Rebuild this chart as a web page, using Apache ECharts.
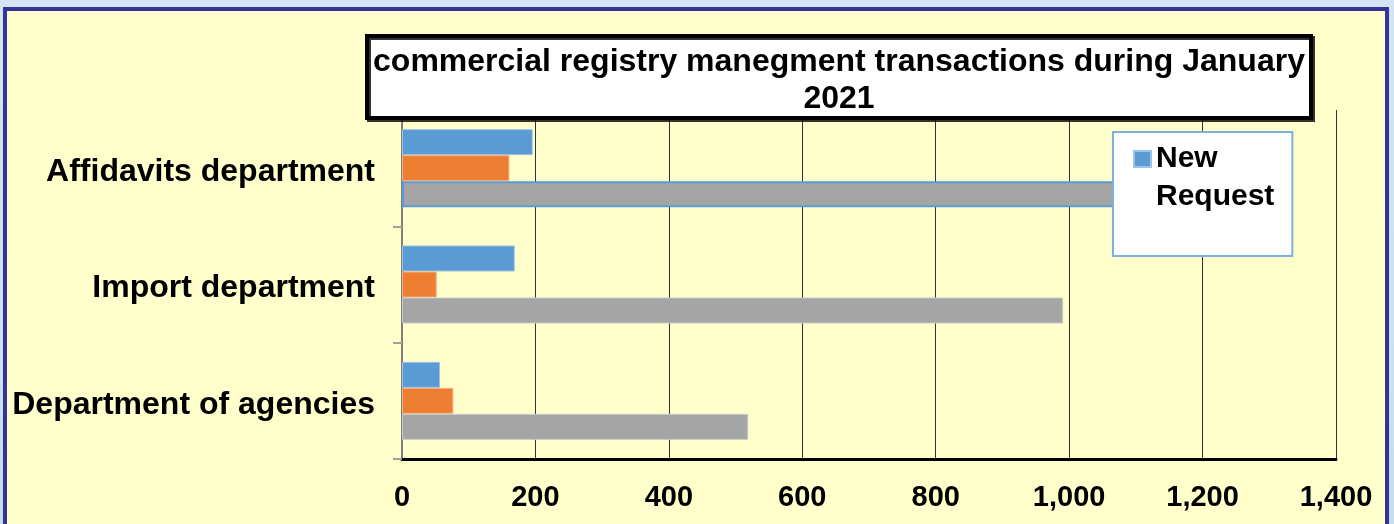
<!DOCTYPE html>
<html>
<head>
<meta charset="utf-8">
<script src="https://cdn.jsdelivr.net/npm/echarts@6/dist/echarts.min.js"></script>
<style>
    body { margin: 0; width: 1394px; height: 524px; overflow: hidden;
           background: linear-gradient(180deg, #d3e5f5 0%, #c6ddf2 100%); }
    #panel { position: absolute; left: 3px; top: 7px; width: 1386px; height: 540px;
             box-sizing: border-box; border: 4px solid #333399; background: #ffffcc; }
    #chart { position: absolute; left: 0; top: 0; width: 1394px; height: 524px; }
</style>
</head>
<body>
<div id="panel"></div>
<div id="chart"></div>
<script>
"use strict";

// categories top to bottom
var departments = ["Affidavits department", "Import department", "Department of agencies"];

// series values, same order as departments
var newRequest = [196, 169, 57];
var secondSeries = [161, 52, 77];
var thirdSeries = [1130, 991, 519];

var xTicks = [0, 200, 400, 600, 800, 1000, 1200, 1400];

(function (window, echarts) {
    var chart = echarts.init(document.querySelector("#chart"));
    var font = "'Liberation Sans', Arial, sans-serif";

    // excel keeps the first grey bar selected (blue outline)
    var greyData = thirdSeries.map(function (v, i) {
        return i === 0 ? { value: v, itemStyle: { borderColor: "#5b9bd5", borderWidth: 2 } } : v;
    });

    var option = {
        backgroundColor: "transparent",
        animation: false,
        title: {
            text: "commercial registry manegment transactions during January\n2021",
            left: 833,
            top: 36,
            textAlign: "center",
            padding: [8, 6, 0, 6],
            backgroundColor: "#ffffff",
            borderColor: "#000000",
            borderWidth: 4,
            shadowColor: "rgba(0,0,0,0.8)",
            shadowOffsetX: 2,
            shadowOffsetY: 2,
            textStyle: {
                fontFamily: font,
                fontSize: 32,
                fontWeight: "bold",
                color: "#000",
                lineHeight: 37
            }
        },
        legend: {
            data: ["New Request"],
            left: 1113,
            top: 132,
            orient: "vertical",
            icon: "rect",
            itemWidth: 17,
            itemHeight: 16,
            padding: [-30, 18, 40, 20],
            backgroundColor: "#ffffff",
            borderColor: "#7eb0e0",
            borderWidth: 2,
            // empty first line keeps "New" level with the swatch, as excel wraps it
            formatter: function () { return " \nNew\nRequest"; },
            textStyle: {
                fontFamily: font,
                fontSize: 30,
                fontWeight: "bold",
                color: "#000",
                lineHeight: 38
            }
        },
        grid: {
            left: 402,
            right: 58,
            top: 110,
            bottom: 65
        },
        xAxis: {
            type: "value",
            min: xTicks[0],
            max: xTicks[xTicks.length - 1],
            interval: xTicks[1] - xTicks[0],
            axisLine: { show: true, lineStyle: { color: "#000", width: 3 } },
            axisTick: { show: false },
            splitLine: { show: true, lineStyle: { color: "#333333", width: 1, type: "solid" } },
            axisLabel: {
                margin: 24,
                fontFamily: font,
                fontSize: 29,
                fontWeight: "bold",
                color: "#000",
                formatter: function (v) { return v.toLocaleString("en-US"); }
            }
        },
        yAxis: {
            type: "category",
            inverse: true,
            data: departments,
            axisLine: { show: true, lineStyle: { color: "#7f7f7f", width: 2 } },
            axisTick: { show: true, length: 9, lineStyle: { color: "#a0a0a0", width: 2 } },
            axisLabel: {
                margin: 27,
                formatter: function (v) { return "{d|" + v + "}"; },
                rich: {
                    d: {
                        padding: [8, 0, 0, 0],
                        fontFamily: font,
                        fontSize: 32,
                        fontWeight: "bold",
                        color: "#000"
                    }
                }
            }
        },
        series: [
            {
                name: "New Request",
                type: "bar",
                barWidth: 26,
                barGap: "0%",
                itemStyle: { color: "#5b9bd5", borderColor: "#9dc3e6", borderWidth: 1 },
                data: newRequest
            },
            {
                name: "Series 2",
                type: "bar",
                barWidth: 26,
                barGap: "0%",
                itemStyle: { color: "#ed7d31", borderColor: "#f4b183", borderWidth: 1 },
                data: secondSeries
            },
            {
                name: "Series 3",
                type: "bar",
                barWidth: 26,
                barGap: "0%",
                itemStyle: { color: "#a5a5a5", borderColor: "#c9c9c9", borderWidth: 1 },
                data: greyData
            }
        ]
    };

    chart.setOption(option);
}(window, echarts));
</script>
</body>
</html>
